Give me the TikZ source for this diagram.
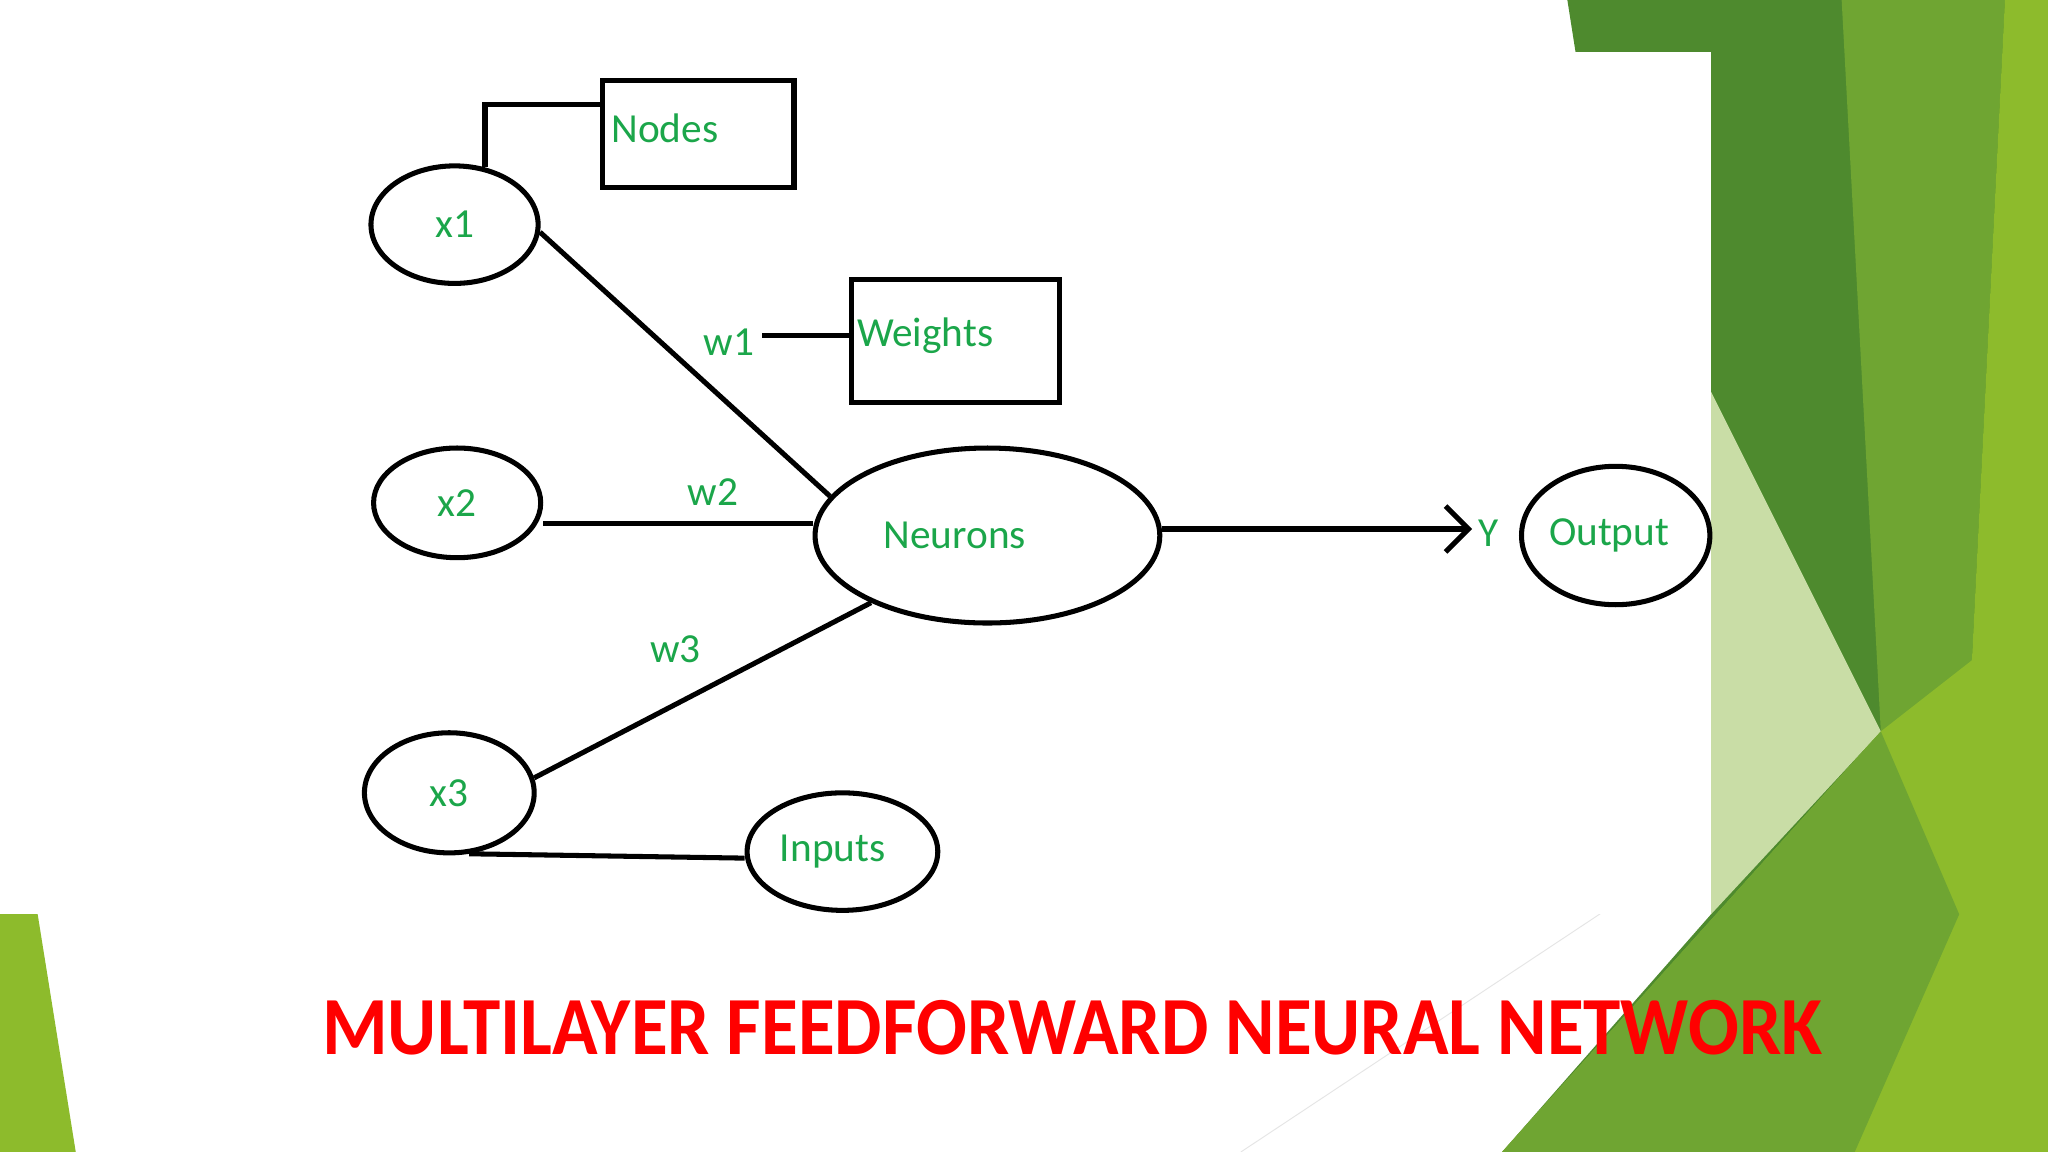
\documentclass[tikz,border=0pt]{standalone}
\usepackage{fontspec}
\setmainfont{Carlito}
\usetikzlibrary{shapes.geometric,arrows.meta}
\definecolor{tg}{HTML}{1BA64A}
\definecolor{dg}{HTML}{4E8A2E}
\definecolor{mg}{HTML}{6FA532}
\definecolor{bg}{HTML}{8DBB2C}
\definecolor{pg}{HTML}{C9DDA6}
\begin{document}
\begin{tikzpicture}[x=0.02cm,y=-0.02cm,
  ell/.style={ellipse,draw=black,line width=2.2pt,text=tg,font=\fontsize{18}{20}\selectfont,inner sep=0pt},
  box/.style={rectangle,draw=black,line width=2.2pt,anchor=north west},
  lab/.style={text=tg,font=\fontsize{18}{20}\selectfont},
  con/.style={line width=2.2pt,black}]
\useasboundingbox (0,0) rectangle (1568,882);
\fill[white] (0,0) rectangle (1568,882);
% background greens
\fill[bg] (0,520) -- (58,882) -- (0,882) -- cycle;
\fill[dg] (1200,0) -- (1568,0) -- (1568,882) -- (1150,882) -- (1310,700) -- cycle;
\fill[pg] (1310,300) -- (1440,560) -- (1310,700) -- cycle;
\fill[mg] (1410,0) -- (1535,0) -- (1500,700) -- (1440,560) -- cycle;
\fill[bg] (1535,0) -- (1568,0) -- (1568,882) -- (1500,700) -- cycle;
\fill[bg] (1568,460) -- (1568,882) -- (1150,882) -- (1440,560) -- cycle;
\fill[mg] (1440,560) -- (1500,700) -- (1420,882) -- (1150,882) -- cycle;
\draw[white!80!gray,thin] (950,882) -- (1300,650);
\fill[white] (0,40) rectangle (1310,700);
% nodes
\node[ell,minimum width=2.56cm,minimum height=1.8cm] (x1) at (348,172) {x1};
\node[ell,minimum width=2.56cm,minimum height=1.68cm] (x2) at (350,385) {x2};
\node[ell,minimum width=2.6cm,minimum height=1.84cm] (x3) at (344,607) {x3};
\node[ell,minimum width=5.28cm,minimum height=2.68cm] (neu) at (756,410) {\hspace*{-1cm}Neurons};
\node[ell,minimum width=2.8cm,minimum height=2.12cm] (out) at (1237,410) {Output\hspace*{0.2cm}};
\node[ell,minimum width=2.92cm,minimum height=1.8cm] (inp) at (645,652) {Inputs\hspace*{0.3cm}};
\node[box,minimum width=2.94cm,minimum height=1.64cm] (nodes) at (459,60) {};
\node[box,minimum width=3.18cm,minimum height=1.88cm] (wts) at (650,212) {};
\node[lab,anchor=west] (nodest) at (462,98) {Nodes};
\node[lab,anchor=west] (wtst) at (650,257) {Weights};
\node[lab] (w1) at (558,262) {w1};
\node[lab] (w2) at (546,377) {w2};
\node[lab] (w3) at (517,497) {w3};
\node[lab] (y) at (1140,408) {Y};
\coordinate (tip) at (1127,405);
% connectors
\draw[con] (x1.-5) -- (neu.166);
\draw[con] (x2.east |- 0,401) -- (neu.west |- 0,401);
\draw[con] (x3.10) -- (neu.-150);
\draw[con,-{Straight Barb[length=10pt,width=20pt,line width=2.2pt]}] (neu.east |- 0,405) -- (tip);
\draw[con] (x3.-72) -- (inp.west |- 0,657);
\draw[con] (x1.62) |- (nodes.west |- 0,80);
\draw[con] (w1.east |- 0,257) -- (wts.west |- 0,257);
% title
\node[text=red,font=\fontsize{36}{40}\selectfont\bfseries] (title) at (821,787) {\scalebox{0.91}[1]{MULTILAYER FEEDFORWARD NEURAL NETWORK}};
\end{tikzpicture}
\end{document}
